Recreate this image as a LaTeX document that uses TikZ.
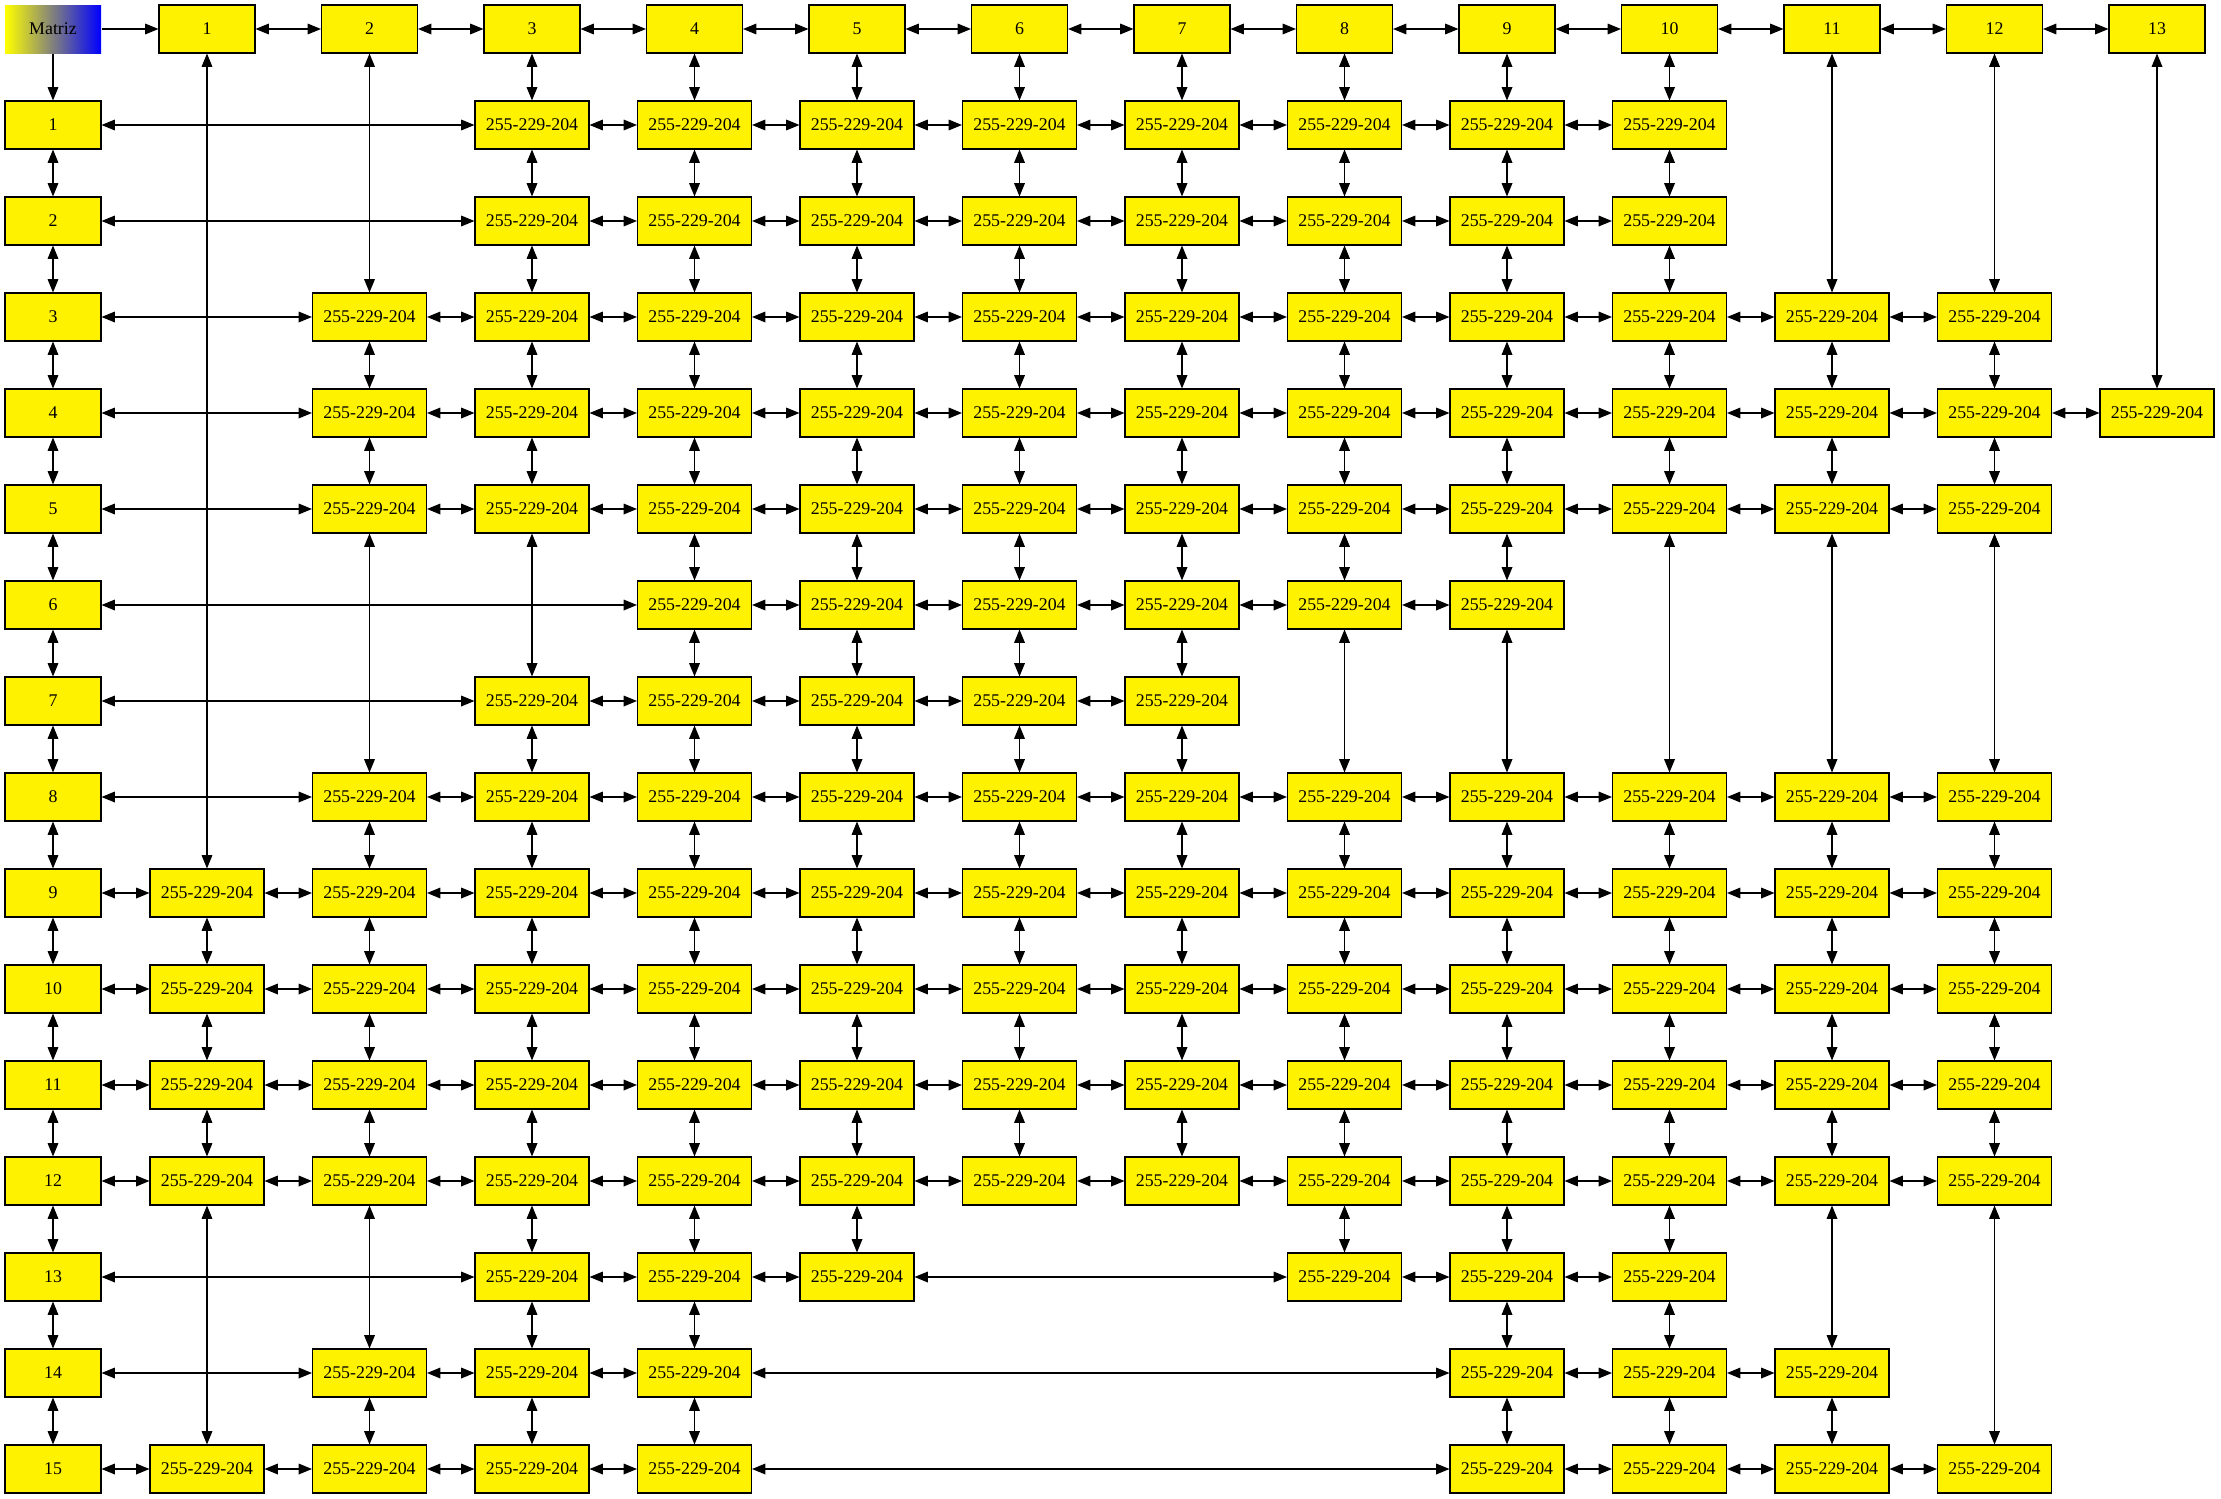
\documentclass[tikz,border=0pt]{standalone}
\usepackage{fontspec}
\setmainfont{Liberation Serif}
\usetikzlibrary{arrows.meta}
\begin{document}
\begin{tikzpicture}[x=0.75pt,y=-0.75pt,
  box/.style={draw=black, fill=yellow, line width=0.8pt, minimum height=36pt, inner sep=0pt, font=\fontsize{13.4pt}{16pt}\selectfont},
  hdr/.style={box, minimum width=72pt},
  cell/.style={box, minimum width=85.5pt},
  link/.style={line width=0.9pt, {Triangle[length=10pt,width=8pt]}-{Triangle[length=10pt,width=8pt]}},
  one/.style={line width=0.9pt, -{Triangle[length=10pt,width=8pt]}}]
\useasboundingbox (0,0) rectangle (2221,1499);
\def\rowdata{1/{3,4,5,6,7,8,9,10}, 2/{3,4,5,6,7,8,9,10}, 3/{2,3,4,5,6,7,8,9,10,11,12},
  4/{2,3,4,5,6,7,8,9,10,11,12,13}, 5/{2,3,4,5,6,7,8,9,10,11,12}, 6/{4,5,6,7,8,9},
  7/{3,4,5,6,7}, 8/{2,3,4,5,6,7,8,9,10,11,12}, 9/{1,2,3,4,5,6,7,8,9,10,11,12},
  10/{1,2,3,4,5,6,7,8,9,10,11,12}, 11/{1,2,3,4,5,6,7,8,9,10,11,12},
  12/{1,2,3,4,5,6,7,8,9,10,11,12}, 13/{3,4,5,8,9,10}, 14/{2,3,4,9,10,11},
  15/{1,2,3,4,9,10,11,12}}
\def\coldata{1/{9,10,11,12,15}, 2/{3,4,5,8,9,10,11,12,14,15},
  3/{1,2,3,4,5,7,8,9,10,11,12,13,14,15}, 4/{1,2,3,4,5,6,7,8,9,10,11,12,13,14,15},
  5/{1,2,3,4,5,6,7,8,9,10,11,12,13}, 6/{1,2,3,4,5,6,7,8,9,10,11,12},
  7/{1,2,3,4,5,6,7,8,9,10,11,12}, 8/{1,2,3,4,5,6,8,9,10,11,12,13},
  9/{1,2,3,4,5,6,8,9,10,11,12,13,14,15}, 10/{1,2,3,4,5,8,9,10,11,12,13,14,15},
  11/{3,4,5,8,9,10,11,12,14,15}, 12/{3,4,5,8,9,10,11,12,15}, 13/{4}}
% nodes
\node[hdr, draw=none, left color=yellow, right color=blue] (c-0-0) at (53,29) {Matriz};
\foreach \j in {1,...,13} \node[hdr] (c-0-\j) at ({207+162.5*(\j-1)},29) {\j};
\foreach \i in {1,...,15} \node[hdr] (c-\i-0) at (53,{29+96*\i}) {\i};
\foreach \i/\cols in \rowdata {
  \foreach \j in \cols {
    \node[cell] (c-\i-\j) at ({207+162.5*(\j-1)},{29+96*\i}) {255-229-204};
  }
}
% connectors
\draw[one] (c-0-0) -- (c-0-1);
\draw[one] (c-0-0) -- (c-1-0);
\foreach \j [remember=\j as \pj (initially 1)] in {2,...,13} \draw[link] (c-0-\pj) -- (c-0-\j);
\foreach \i [remember=\i as \pq (initially 1)] in {2,...,15} \draw[link] (c-\pq-0) -- (c-\i-0);
\foreach \i/\cols in \rowdata {
  \foreach \j [remember=\j as \pj (initially 0)] in \cols {
    \draw[link] (c-\i-\pj) -- (c-\i-\j);
  }
}
\foreach \j/\rows in \coldata {
  \foreach \r [remember=\r as \pr (initially 0)] in \rows {
    \draw[link] (c-\pr-\j) -- (c-\r-\j);
  }
}
\end{tikzpicture}
\end{document}
